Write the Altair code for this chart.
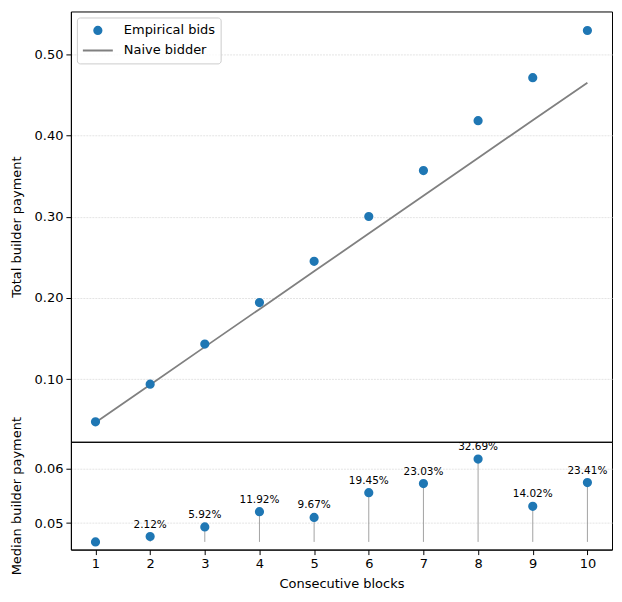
import altair as alt
import pandas as pd

# ---- data ----
blocks = [1, 2, 3, 4, 5, 6, 7, 8, 9, 10]
total_empirical = [0.0474, 0.0938, 0.1431, 0.1943, 0.2451, 0.3003, 0.3569, 0.4184, 0.4713, 0.5295]
total_naive = [0.0466, 0.0931, 0.1397, 0.1862, 0.2328, 0.2793, 0.3259, 0.3724, 0.4190, 0.4650]
median_payment = [0.04655, 0.04754, 0.04931, 0.05210, 0.05105, 0.05560, 0.05727, 0.06177, 0.05308, 0.05745]
stem_base = [0.04655] * 10
pct_labels = ["", "2.12%", "5.92%", "11.92%", "9.67%", "19.45%", "23.03%", "32.69%", "14.02%", "23.41%"]
series_names = ["Empirical bids", "Naive bidder"]

BLUE = "#1f77b4"
GRAY = "#808080"
FONT = "DejaVu Sans"

emp_df = pd.DataFrame({"block": blocks, "value": total_empirical, "series": series_names[0]})
naive_df = pd.DataFrame({"block": blocks, "value": total_naive, "series": series_names[1]})
med_df = pd.DataFrame({"block": blocks, "value": median_payment, "base": stem_base, "label": pct_labels})

x_scale = alt.Scale(domain=[0.55, 10.45], nice=False, zero=False)

legend = alt.Legend(
    title=None, orient="top-left", offset=6, padding=5,
    strokeColor="#cccccc", fillColor="rgba(255,255,255,0.8)", cornerRadius=3,
    labelFont=FONT, labelFontSize=13, labelColor="black", labelOffset=10,
    clipHeight=16, rowPadding=4, symbolStrokeWidth=2,
)

points = alt.Chart(emp_df).mark_point(filled=True, opacity=1).encode(
    x=alt.X("block:Q", scale=x_scale, axis=None),
    y=alt.Y("value:Q",
            scale=alt.Scale(domain=[0.0228, 0.5529], nice=False, zero=False),
            axis=alt.Axis(title="Total builder payment", values=[0.1, 0.2, 0.3, 0.4, 0.5], format=".2f")),
    fill=alt.Fill("series:N", scale=alt.Scale(domain=series_names, range=[BLUE, GRAY]), legend=legend),
    stroke=alt.Stroke("series:N", scale=alt.Scale(domain=series_names, range=[BLUE, GRAY]), legend=legend),
    shape=alt.Shape("series:N", scale=alt.Scale(domain=series_names, range=["circle", "stroke"]), legend=legend),
    size=alt.Size("series:N", scale=alt.Scale(domain=series_names, range=[52, 900]), legend=legend),
)

line = alt.Chart(naive_df).mark_line(color=GRAY, strokeWidth=1.8).encode(
    x=alt.X("block:Q", scale=x_scale, axis=None),
    y=alt.Y("value:Q"),
)

top = alt.layer(line, points).properties(width=542, height=431)

bx = alt.X("block:Q", scale=x_scale,
           axis=alt.Axis(title="Consecutive blocks", values=blocks, format="d", grid=False, titlePadding=7))
by_scale = alt.Scale(domain=[0.04514, 0.06494], nice=False, zero=False)

stems = alt.Chart(med_df).mark_rule(color="#999999", strokeWidth=0.9).encode(
    x=bx,
    y=alt.Y("base:Q", scale=by_scale,
            axis=alt.Axis(title="Median builder payment", values=[0.05, 0.06], format=".2f")),
    y2="value:Q",
)
mpoints = alt.Chart(med_df).mark_point(filled=True, opacity=1, color=BLUE, size=52, stroke=BLUE).encode(
    x=bx, y=alt.Y("value:Q"),
)
labels = alt.Chart(med_df).transform_filter("datum.label != ''").mark_text(
    font=FONT, fontSize=10.5, color="black", baseline="alphabetic", dy=-9
).encode(x=bx, y=alt.Y("value:Q"), text="label:N")

bottom = alt.layer(stems, mpoints, labels).properties(width=542, height=108)

chart = alt.vconcat(top, bottom, spacing=0, bounds="flush").resolve_scale(
    fill="independent", stroke="independent", shape="independent", size="independent"
).properties(
    padding={"left": 1, "top": 2, "right": 1, "bottom": 5}
).configure_view(
    stroke="black", strokeWidth=1
).configure_axis(
    labelFont=FONT, titleFont=FONT, labelFontSize=13, titleFontSize=13,
    titleFontWeight="normal", labelColor="black", titleColor="black",
    tickColor="black", domainColor="black", tickSize=5, labelPadding=3,
    gridColor="#e4e4e4", gridDash=[2, 1], gridWidth=1,
).configure_axisY(grid=True, titlePadding=11)

chart.save("out.html", embed_options={"renderer": "svg", "actions": False})
